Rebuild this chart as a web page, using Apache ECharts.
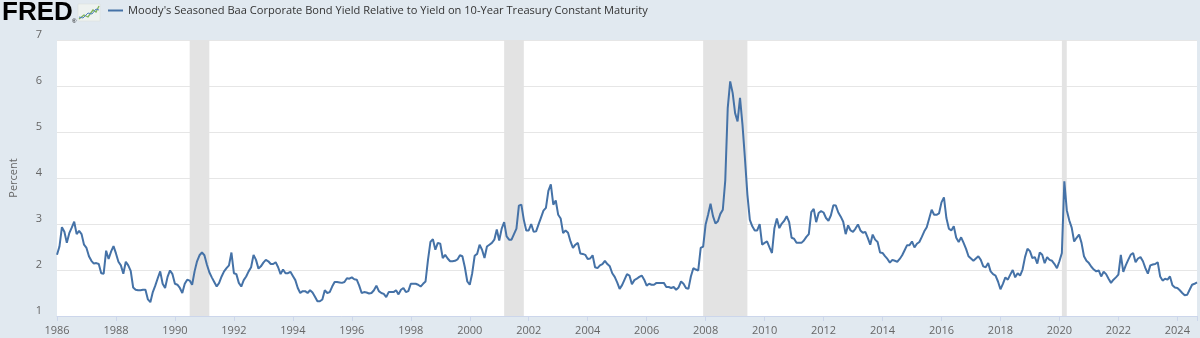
<!DOCTYPE html>
<html>
<head>
<meta charset="utf-8">
<script src="https://cdn.jsdelivr.net/npm/echarts@6/dist/echarts.min.js"></script>
<style>
html,body{margin:0;padding:0;background:#e1e9f0;}
#chart{width:1200px;height:338px;}
</style>
</head>
<body>
<div id="chart"></div>
<script>
const seriesName = "Moody's Seasoned Baa Corporate Bond Yield Relative to Yield on 10-Year Treasury Constant Maturity";
const yAxisName = "Percent";
const startYear = 1986;
const endYear = 2024;
const lastMonth = 9; // September 2024

// Monthly values (percent), one array per year
const s1986 = [2.33, 2.51, 2.93, 2.83, 2.59, 2.80, 2.92, 3.05, 2.78, 2.85, 2.78, 2.55];
const s1987 = [2.48, 2.30, 2.20, 2.14, 2.15, 2.13, 1.93, 1.92, 2.42, 2.24, 2.40, 2.52];
const s1988 = [2.36, 2.18, 2.10, 1.92, 2.18, 2.10, 1.98, 1.62, 1.57, 1.56, 1.56, 1.57];
const s1989 = [1.57, 1.36, 1.30, 1.52, 1.66, 1.82, 1.97, 1.70, 1.61, 1.85, 1.99, 1.91];
const s1990 = [1.70, 1.68, 1.61, 1.50, 1.70, 1.79, 1.77, 1.68, 1.97, 2.19, 2.32, 2.38];
const s1991 = [2.32, 2.12, 1.95, 1.84, 1.74, 1.64, 1.72, 1.86, 1.97, 2.04, 2.10, 2.38];
const s1992 = [1.93, 1.91, 1.72, 1.64, 1.78, 1.86, 1.97, 2.06, 2.33, 2.22, 2.03, 2.08];
const s1993 = [2.16, 2.22, 2.19, 2.13, 2.13, 2.17, 2.06, 1.91, 2.01, 1.93, 1.93, 1.96];
const s1994 = [1.87, 1.78, 1.61, 1.50, 1.54, 1.54, 1.50, 1.56, 1.51, 1.42, 1.32, 1.32];
const s1995 = [1.36, 1.56, 1.50, 1.52, 1.64, 1.74, 1.74, 1.73, 1.72, 1.74, 1.82, 1.81];
const s1996 = [1.84, 1.80, 1.79, 1.66, 1.50, 1.52, 1.51, 1.49, 1.50, 1.56, 1.66, 1.54];
const s1997 = [1.50, 1.48, 1.41, 1.52, 1.52, 1.52, 1.56, 1.47, 1.57, 1.61, 1.52, 1.54];
const s1998 = [1.70, 1.70, 1.70, 1.68, 1.64, 1.70, 1.75, 2.22, 2.61, 2.67, 2.44, 2.59];
const s1999 = [2.57, 2.26, 2.33, 2.25, 2.19, 2.19, 2.20, 2.23, 2.32, 2.30, 2.06, 1.75];
const s2000 = [1.68, 1.93, 2.31, 2.35, 2.55, 2.44, 2.26, 2.51, 2.55, 2.59, 2.66, 2.88];
const s2001 = [2.64, 2.90, 3.04, 2.73, 2.66, 2.66, 2.78, 2.90, 3.40, 3.42, 3.09, 2.86];
const s2002 = [2.86, 3.00, 2.83, 2.84, 2.99, 3.14, 3.29, 3.35, 3.72, 3.86, 3.42, 3.51];
const s2003 = [3.20, 3.12, 2.80, 2.86, 2.81, 2.62, 2.48, 2.55, 2.59, 2.36, 2.35, 2.33];
const s2004 = [2.24, 2.25, 2.32, 2.06, 2.04, 2.10, 2.13, 2.20, 2.13, 2.08, 1.93, 1.85];
const s2005 = [1.73, 1.59, 1.67, 1.79, 1.91, 1.88, 1.69, 1.78, 1.81, 1.85, 1.88, 1.79];
const s2006 = [1.66, 1.70, 1.68, 1.68, 1.72, 1.72, 1.72, 1.72, 1.63, 1.63, 1.61, 1.63];
const s2007 = [1.57, 1.62, 1.75, 1.70, 1.61, 1.59, 1.86, 2.04, 2.01, 1.99, 2.48, 2.51];
const s2008 = [2.99, 3.20, 3.44, 3.17, 3.01, 3.06, 3.22, 3.31, 3.95, 5.52, 6.10, 5.85];
const s2009 = [5.41, 5.23, 5.74, 5.16, 4.43, 3.64, 3.09, 2.95, 2.86, 2.86, 3.00, 2.55];
const s2010 = [2.59, 2.62, 2.49, 2.37, 2.91, 3.12, 2.91, 3.01, 3.07, 3.17, 3.04, 2.70];
const s2011 = [2.68, 2.59, 2.59, 2.59, 2.64, 2.72, 2.78, 3.26, 3.33, 3.04, 3.24, 3.28];
const s2012 = [3.25, 3.13, 3.07, 3.19, 3.41, 3.40, 3.25, 3.16, 3.05, 2.78, 2.97, 2.86];
const s2013 = [2.83, 2.90, 2.99, 2.86, 2.81, 2.83, 2.70, 2.55, 2.77, 2.66, 2.61, 2.38];
const s2014 = [2.37, 2.30, 2.24, 2.16, 2.22, 2.20, 2.18, 2.24, 2.32, 2.43, 2.54, 2.54];
const s2015 = [2.62, 2.49, 2.57, 2.61, 2.72, 2.84, 2.93, 3.12, 3.31, 3.20, 3.20, 3.23];
const s2016 = [3.47, 3.58, 3.13, 2.90, 2.86, 2.95, 2.70, 2.61, 2.71, 2.59, 2.46, 2.30];
const s2017 = [2.25, 2.20, 2.25, 2.30, 2.22, 2.08, 2.06, 2.15, 1.97, 1.91, 1.88, 1.75];
const s2018 = [1.58, 1.70, 1.84, 1.79, 1.90, 2.00, 1.84, 1.93, 1.88, 2.01, 2.28, 2.46];
const s2019 = [2.41, 2.26, 2.28, 2.14, 2.38, 2.33, 2.15, 2.28, 2.22, 2.20, 2.13, 2.04];
const s2020 = [2.19, 2.37, 3.93, 3.30, 3.08, 2.92, 2.62, 2.70, 2.77, 2.59, 2.30, 2.20];
const s2021 = [2.15, 2.07, 2.01, 1.97, 1.99, 1.86, 1.96, 1.91, 1.81, 1.72, 1.79, 1.84];
const s2022 = [1.90, 2.33, 1.96, 2.10, 2.22, 2.33, 2.37, 2.17, 2.25, 2.28, 2.19, 2.04];
const s2023 = [1.92, 2.10, 2.12, 2.13, 2.17, 1.86, 1.77, 1.81, 1.79, 1.86, 1.67, 1.62];
const s2024 = [1.61, 1.56, 1.50, 1.45, 1.46, 1.57, 1.68, 1.70, 1.73];

const yearly = [s1986,s1987,s1988,s1989,s1990,s1991,s1992,s1993,s1994,s1995,s1996,s1997,s1998,s1999,
  s2000,s2001,s2002,s2003,s2004,s2005,s2006,s2007,s2008,s2009,s2010,s2011,s2012,s2013,s2014,s2015,
  s2016,s2017,s2018,s2019,s2020,s2021,s2022,s2023,s2024];

// NBER recessions (shaded)
const recessionStarts = ['1990-07', '2001-03', '2007-12', '2020-02'];
const recessionEnds   = ['1991-03', '2001-11', '2009-06', '2020-04'];

function ym(s){ const p = s.split('-'); return +p[0] + (+p[1]-1)/12; }

const data = [];
yearly.forEach((arr, i) => {
  arr.forEach((v, j) => data.push([startYear + i + j/12, v]));
});

const recAreas = recessionStarts.map((s, i) => [{xAxis: ym(s)}, {xAxis: ym(recessionEnds[i])}]);

const chart = echarts.init(document.getElementById('chart'), null, {renderer: 'canvas'});
const font = '"Open Sans", "Liberation Sans", Arial, sans-serif';

chart.setOption({
  backgroundColor: '#e1e9f0',
  animation: false,
  textStyle: {fontFamily: font},
  legend: {
    left: 108, top: 5, padding: 0,
    icon: 'rect', itemWidth: 15, itemHeight: 2,
    textStyle: {fontSize: 11.1, color: '#333333', fontFamily: font},
    data: [seriesName]
  },
  graphic: [
    {type: 'text', x: 2, y: 0, style: {text: 'FRED', font: 'bold 26px "Liberation Sans", Arial, sans-serif', fill: '#000000', textVerticalAlign: 'top', verticalAlign: 'top'}},
    {type: 'text', x: 72, y: 18, style: {text: '®', font: '6px "Liberation Sans", Arial, sans-serif', fill: '#000000', verticalAlign: 'top'}},
    {type: 'rect', shape: {x: 78, y: 4, width: 22, height: 17}, style: {fill: '#eef2f0', stroke: '#d8dfd8', lineWidth: 0.5}},
    {type: 'polyline', shape: {points: [[79,19],[84,15],[88,17],[93,10],[96,12],[99,6]]}, style: {stroke: '#7fb35a', lineWidth: 1.3, fill: null}},
    {type: 'polyline', shape: {points: [[79,17],[83,18],[88,13],[92,14],[96,9],[99,10]]}, style: {stroke: '#4f81bd', lineWidth: 1, fill: null}}
  ],
  grid: {left: 56, right: 2, top: 40, bottom: 22, show: true, backgroundColor: '#ffffff', borderWidth: 0},
  xAxis: {
    type: 'value', min: startYear, max: endYear + (lastMonth - 1)/12, interval: 2,
    axisLine: {show: true, lineStyle: {color: '#ccd6eb', width: 1}},
    axisTick: {show: true, length: 5, lineStyle: {color: '#ccd6eb'}},
    axisLabel: {margin: 9, fontSize: 11, color: '#666666', fontFamily: font,
      formatter: v => (Math.abs(v - Math.round(v)) < 1e-6 ? String(Math.round(v)) : '')},
    splitLine: {show: false}
  },
  yAxis: {
    type: 'value', min: 1, max: 7, interval: 1,
    name: yAxisName, nameLocation: 'middle', nameGap: 38,
    nameTextStyle: {fontSize: 11, color: '#666666', fontFamily: font},
    axisLine: {show: false}, axisTick: {show: false},
    axisLabel: {fontSize: 11, color: '#666666', margin: 15, verticalAlign: 'bottom', fontFamily: font},
    splitLine: {show: true, lineStyle: {color: '#e6e6e6', width: 1}}
  },
  series: [{
    name: seriesName, type: 'line', data: data,
    showSymbol: false, symbol: 'none',
    lineStyle: {width: 2, color: '#4572a7'},
    itemStyle: {color: '#4572a7'},
    markArea: {silent: true, itemStyle: {color: '#e3e3e3'}, data: recAreas}
  }]
});
</script>
</body>
</html>
